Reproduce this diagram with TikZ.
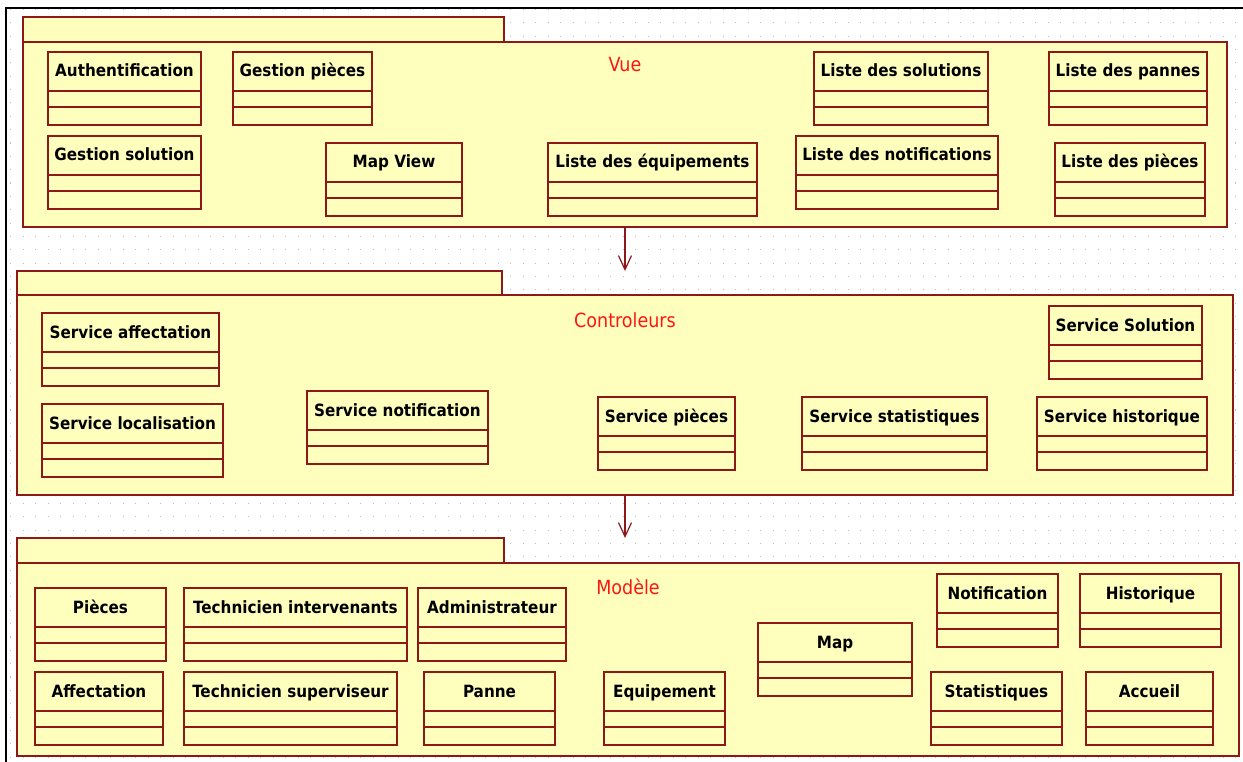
\documentclass[tikz,border=0pt]{standalone}
\usepackage{fontspec}
\usetikzlibrary{arrows.meta}
\newfontfamily\umlfont{DejaVu Sans Condensed}

\definecolor{umlline}{RGB}{140,24,24}
\definecolor{umlfill}{RGB}{255,255,189}
\definecolor{pkgred}{RGB}{255,20,20}
\definecolor{dotgray}{RGB}{190,190,190}

\tikzset{
  clsbox/.style={draw=umlline, fill=umlfill, line width=1.8pt, inner sep=0pt, outer sep=0pt,
                 minimum height=73pt, anchor=north west},
  clsline/.style={draw=umlline, line width=1.6pt},
  clstitle/.style={inner sep=0pt, anchor=base, font=\umlfont\bfseries\fontsize{16.9}{20}\selectfont, text=black},
  pkgbox/.style={draw=umlline, fill=umlfill, line width=1.8pt, inner sep=0pt, outer sep=0pt, anchor=north west},
  pkgtitle/.style={inner sep=0pt, anchor=base, font=\umlfont\fontsize{19.5}{22}\selectfont, text=pkgred},
  griddots/.style={draw=dotgray, line width=1.1pt, dash pattern=on 1.1pt off 11.4pt},
  frameline/.style={draw=black, line width=2pt},
  dep/.style={draw=umlline, line width=1.3pt, -{Straight Barb[length=14pt,width=13pt,line width=1.2pt]}}
}

% one UML class: name, left, top, right, title (header / attributes / operations)
\newcommand\umlclass[5]{%
  \node[clsbox, minimum width={#4pt-#2pt}] (#1) at (#2,#3) {};
  \node[clstitle] (#1-title) at ([yshift=-25pt]#1.north) {#5};
  \draw[clsline] ([yshift=-39pt]#1.north west) -- ([yshift=-39pt]#1.north east);
  \draw[clsline] ([yshift=-55pt]#1.north west) -- ([yshift=-55pt]#1.north east);
}

% one package: name, left, tab top, tab right, body top, body right, body bottom
\newcommand\umlpackage[7]{%
  \node[pkgbox, minimum width={#4pt-#2pt}, minimum height={#5pt-#3pt}] (#1tab) at (#2,#3) {};
  \node[pkgbox, minimum width={#6pt-#2pt}, minimum height={#7pt-#5pt}] (#1) at (#2,#5) {};
}

\begin{document}
\begin{tikzpicture}[x=1pt, y=-1pt]
\useasboundingbox (0,0) rectangle (1243,762);
\fill[white] (0,0) rectangle (1243,762);

% background dot grid
\foreach \gy in {9.5,22.85,...,762}
  \draw[griddots] (10,\gy) -- (1243,\gy);

% window frame
\draw[frameline] (6,762) -- (6,8) -- (1243,8);

% packages
\umlpackage{vue}{23}{17}{504}{42}{1227}{227}
\umlpackage{ctrl}{17}{271}{502}{295}{1233}{495}
\umlpackage{mod}{17}{538}{504}{563}{1239}{756}

\node[pkgtitle] (vue-label) at (625,72) {Vue};
\node[pkgtitle] (ctrl-label) at (625,327) {Controleurs};
\node[pkgtitle] (mod-label) at (628,594) {Modèle};

% package dependencies
\draw[dep] (vue.south) -- (vue.south |- ctrltab.north);
\draw[dep] (ctrl.south) -- (ctrl.south |- modtab.north);

% Vue
\umlclass{auth}{48}{52}{201}{Authentification}
\umlclass{gpieces}{233}{52}{372}{Gestion pièces}
\umlclass{lsol}{814}{52}{988}{Liste des solutions}
\umlclass{lpannes}{1049}{52}{1207}{Liste des pannes}
\umlclass{gsol}{48}{136}{201}{Gestion solution}
\umlclass{mapview}{326}{143}{462}{Map View}
\umlclass{lequip}{548}{143}{757}{Liste des équipements}
\umlclass{lnotif}{796}{136}{998}{Liste des notifications}
\umlclass{lpieces}{1055}{143}{1205}{Liste des pièces}

% Controleurs
\umlclass{saff}{42}{313}{219}{Service affectation}
\umlclass{sloc}{42}{404}{223}{Service localisation}
\umlclass{snotif}{307}{391}{488}{Service notification}
\umlclass{spieces}{598}{397}{735}{Service pièces}
\umlclass{sstat}{802}{397}{987}{Service statistiques}
\umlclass{ssol}{1049}{306}{1202}{Service Solution}
\umlclass{shist}{1037}{397}{1207}{Service historique}

% Modèle
\umlclass{pieces}{35}{588}{166}{Pièces}
\umlclass{techint}{184}{588}{407}{Technicien intervenants}
\umlclass{admin}{418}{588}{566}{Administrateur}
\umlclass{affect}{35}{672}{163}{Affectation}
\umlclass{techsup}{184}{672}{397}{Technicien superviseur}
\umlclass{panne}{424}{672}{555}{Panne}
\umlclass{equip}{604}{672}{725}{Equipement}
\umlclass{map}{758}{623}{912}{Map}
\umlclass{notif}{937}{574}{1058}{Notification}
\umlclass{hist}{1080}{574}{1221}{Historique}
\umlclass{stat}{931}{672}{1062}{Statistiques}
\umlclass{accueil}{1086}{672}{1213}{Accueil}
\end{tikzpicture}
\end{document}
